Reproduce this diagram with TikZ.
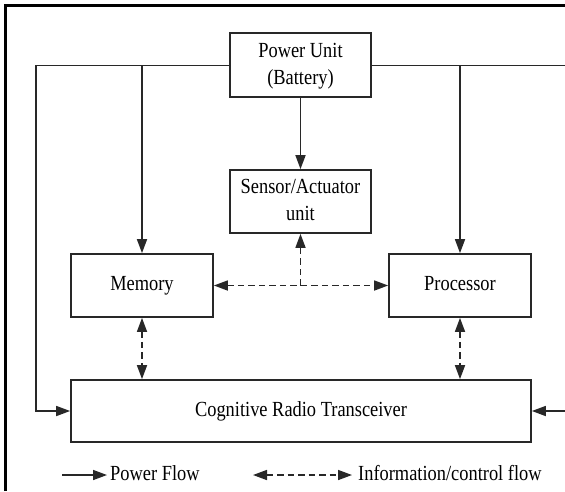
\documentclass[tikz,border=0pt]{standalone}
\usepackage{fontspec}
\setmainfont{Liberation Serif}
\usepackage{graphicx}
\usetikzlibrary{arrows.meta}
\newcommand{\vs}[1]{\scalebox{1}[1.17]{#1}}
\newcommand{\twol}[2]{\vs{\begin{tabular}{@{}c@{}}#1\\#2\end{tabular}}}
\definecolor{ln}{RGB}{40,40,40}
\tikzset{
  blk/.style={draw=ln, line width=1.7pt, inner sep=0pt, font=\fontsize{18.4}{23}\selectfont},
  tipx/.style={},
  pf/.style={draw=ln, line width=1.6pt, -{Triangle[length=14pt,width=10pt]}},
  inf/.style={draw=ln, line width=1.6pt, dash pattern=on 6.5pt off 4pt},
  lab/.style={inner sep=0pt, anchor=west, font=\fontsize{18.4}{23}\selectfont},
}
\begin{document}
\begin{tikzpicture}[x=1pt,y=-1pt]
\useasboundingbox (0,0) rectangle (565,491);
% frame
\draw[line width=2.8pt, black] (5.5,491) -- (5.5,5.4) -- (565,5.4);
% blocks
\node[blk, minimum width=141pt, minimum height=64pt] (pw) at (300.5,65.3) {\twol{Power Unit}{(Battery)}};
\node[blk, minimum width=141pt, minimum height=63pt] (sen) at (300.5,201.5) {\twol{Sensor/Actuator}{unit}};
\node[blk, minimum width=142pt, minimum height=63pt] (mem) at (142,285.5) {\vs{\strut Memory}};
\node[blk, minimum width=142pt, minimum height=63pt] (proc) at (460,285.5) {\vs{\strut Processor}};
\node[blk, minimum width=460pt, minimum height=62pt] (crt) at (301,411) {\vs{\strut Cognitive Radio Transceiver}};
% power bus
\coordinate (busL) at (35.7,65.3);
\coordinate (busR) at (565,65.3);
\coordinate (inL) at (35.7,411);
\coordinate (inR) at (565,411);
\draw[pf] (pw.west) -- (busL) -- (inL) -- (crt.west);
\draw[draw=ln, line width=1.6pt] (pw.east) -- (busR);
\draw[pf] (inR) -- (crt.east);
\draw[pf] (mem.north |- busL) -- (mem.north);
\draw[pf] (proc.north |- busR) -- (proc.north);
\draw[pf] (pw.south) -- (sen.north);
% information flow
\draw[inf, {Triangle[length=14pt,width=10pt]}-{Triangle[length=14pt,width=10pt]}] (mem.east) -- (proc.west);
\draw[inf, -{Triangle[length=14pt,width=10pt]}] (sen.south |- mem.east) -- (sen.south);
\draw[inf, {Triangle[length=14pt,width=10pt]}-{Triangle[length=14pt,width=10pt]}] (mem.south) -- (mem.south |- crt.north);
\draw[inf, {Triangle[length=14pt,width=10pt]}-{Triangle[length=14pt,width=10pt]}] (proc.south) -- (proc.south |- crt.north);
% legend
\coordinate (l1a) at (62,475);
\coordinate (l1b) at (107,475);
\coordinate (l2a) at (253,475);
\coordinate (l2b) at (352,475);
\draw[pf] (l1a) -- (l1b);
\node[lab] (t1) at (110,473) {\vs{Power Flow}};
\draw[inf, {Triangle[length=14pt,width=10pt]}-{Triangle[length=14pt,width=10pt]}] (l2a) -- (l2b);
\node[lab] (t2) at (358,473) {\vs{Information/control flow}};
\end{tikzpicture}
\end{document}
